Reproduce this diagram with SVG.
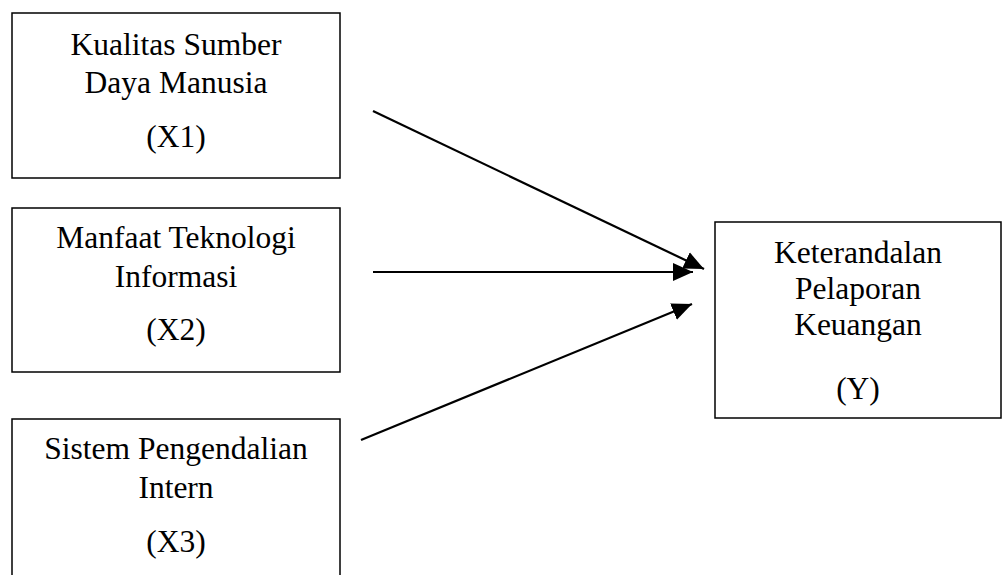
<svg xmlns="http://www.w3.org/2000/svg" width="1003" height="575" viewBox="0 0 1003 575">
<style>
.box{fill:#fff;stroke:#000;stroke-width:1.5}
.t{font-family:"Liberation Serif","Times New Roman",serif;font-size:31.5px;fill:#000;text-anchor:middle}
.c{stroke:#000;stroke-width:2.2;fill:none}
</style>
<defs>
<marker id="ah" markerUnits="userSpaceOnUse" markerWidth="20" markerHeight="20" viewBox="0 0 18 16" refX="18" refY="8" orient="auto">
<path d="M0,0 L18,8 L0,16 Z" fill="#000"/>
</marker>
</defs>
<rect width="1003" height="575" fill="#fff"/>
<g id="x1">
<rect class="box" x="12" y="13" width="328" height="165"/>
<text class="t" x="176" y="55">Kualitas Sumber</text>
<text class="t" x="176" y="93">Daya Manusia</text>
<text class="t" x="176" y="147">(X1)</text>
</g>
<g id="x2">
<rect class="box" x="12" y="208" width="328" height="164"/>
<text class="t" x="176" y="248">Manfaat Teknologi</text>
<text class="t" x="176" y="287">Informasi</text>
<text class="t" x="176" y="340">(X2)</text>
</g>
<g id="x3">
<rect class="box" x="12" y="419" width="328" height="170"/>
<text class="t" x="176" y="459">Sistem Pengendalian</text>
<text class="t" x="176" y="498">Intern</text>
<text class="t" x="176" y="552">(X3)</text>
</g>
<g id="y">
<rect class="box" x="715" y="222" width="286" height="196"/>
<text class="t" x="858" y="263">Keterandalan</text>
<text class="t" x="858" y="299">Pelaporan</text>
<text class="t" x="858" y="335">Keuangan</text>
<text class="t" x="858" y="399">(Y)</text>
</g>
<g id="connectors">
<line class="c" x1="373" y1="111" x2="704" y2="269" marker-end="url(#ah)"/>
<line class="c" x1="373" y1="272" x2="693" y2="272" marker-end="url(#ah)"/>
<line class="c" x1="361" y1="440" x2="692" y2="304" marker-end="url(#ah)"/>
</g>
</svg>
